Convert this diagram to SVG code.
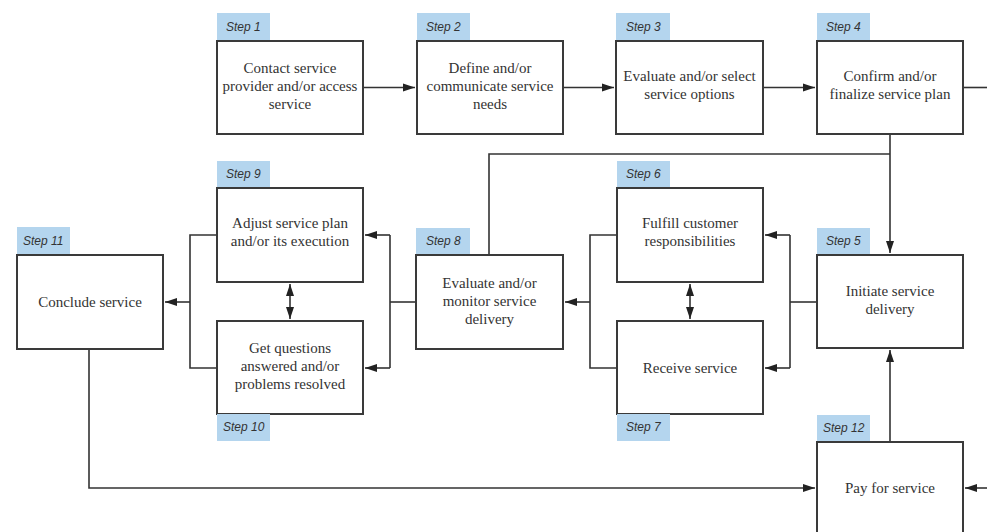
<svg xmlns="http://www.w3.org/2000/svg" width="987" height="532" viewBox="0 0 987 532">
<style>
.box{fill:#fff;stroke:#3a3a3a;stroke-width:2}
.lab{fill:#b4d5ee}
.t{font-family:"Liberation Serif","Times New Roman",serif;font-size:15px;fill:#333;text-anchor:middle}
.s{font-family:"Liberation Sans",Arial,sans-serif;font-size:12px;font-style:italic;fill:#333}
.c{fill:none;stroke:#333;stroke-width:1.6}
</style>
<defs>
<marker id="ar" viewBox="0 0 12 10" refX="12" refY="5" markerWidth="12" markerHeight="10" markerUnits="userSpaceOnUse" orient="auto-start-reverse">
<path d="M0,1 L12,5 L0,9 z" fill="#222"/>
</marker>
</defs>
<rect width="987" height="532" fill="#fff"/>
<g id="connectors">
<path class="c" d="M363,87.5 H415" marker-end="url(#ar)"/>
<path class="c" d="M563,87.5 H614" marker-end="url(#ar)"/>
<path class="c" d="M763,87.5 H815" marker-end="url(#ar)"/>
<path class="c" d="M963,87.5 H987"/>
<path class="c" d="M890,134 V253" marker-end="url(#ar)"/>
<path class="c" d="M489,255 V154 H890"/>
<path class="c" d="M817,302 H790"/>
<path class="c" d="M790,235 V368"/>
<path class="c" d="M790,235 H765" marker-end="url(#ar)"/>
<path class="c" d="M790,368 H765" marker-end="url(#ar)"/>
<path class="c" d="M690,284 V319" marker-start="url(#ar)" marker-end="url(#ar)"/>
<path class="c" d="M617,235 H590 V368 H617"/>
<path class="c" d="M590,302 H565" marker-end="url(#ar)"/>
<path class="c" d="M416,302 H390"/>
<path class="c" d="M390,235 V368"/>
<path class="c" d="M390,235 H365" marker-end="url(#ar)"/>
<path class="c" d="M390,368 H365" marker-end="url(#ar)"/>
<path class="c" d="M290,284 V319" marker-start="url(#ar)" marker-end="url(#ar)"/>
<path class="c" d="M217,235 H190 V368 H217"/>
<path class="c" d="M190,302 H165" marker-end="url(#ar)"/>
<path class="c" d="M89,349 V488 H815" marker-end="url(#ar)"/>
<path class="c" d="M987,488 H965" marker-end="url(#ar)"/>
<path class="c" d="M890,442 V350" marker-end="url(#ar)"/>
</g>
<g id="step1">
<rect class="lab" x="217" y="13" width="53" height="28"/>
<text class="s" x="226" y="31">Step 1</text>
<rect class="box" x="217" y="41" width="146" height="93"/>
<text class="t" x="290" y="73">Contact service</text>
<text class="t" x="290" y="91">provider and/or access</text>
<text class="t" x="290" y="109">service</text>
</g>
<g id="step2">
<rect class="lab" x="417" y="13" width="53" height="28"/>
<text class="s" x="426" y="31">Step 2</text>
<rect class="box" x="417" y="41" width="146" height="93"/>
<text class="t" x="490" y="73">Define and/or</text>
<text class="t" x="490" y="91">communicate service</text>
<text class="t" x="490" y="109">needs</text>
</g>
<g id="step3">
<rect class="lab" x="616" y="13" width="54" height="28"/>
<text class="s" x="626" y="31">Step 3</text>
<rect class="box" x="616" y="41" width="147" height="93"/>
<text class="t" x="689.5" y="81">Evaluate and/or select</text>
<text class="t" x="689.5" y="99">service options</text>
</g>
<g id="step4">
<rect class="lab" x="817" y="13" width="53" height="28"/>
<text class="s" x="826" y="31">Step 4</text>
<rect class="box" x="817" y="41" width="146" height="93"/>
<text class="t" x="890" y="81">Confirm and/or</text>
<text class="t" x="890" y="99">finalize service plan</text>
</g>
<g id="step5">
<rect class="lab" x="817" y="228" width="53" height="27"/>
<text class="s" x="826" y="245">Step 5</text>
<rect class="box" x="817" y="255" width="146" height="93"/>
<text class="t" x="890" y="296">Initiate service</text>
<text class="t" x="890" y="314">delivery</text>
</g>
<g id="step6">
<rect class="lab" x="617" y="161" width="53" height="27"/>
<text class="s" x="626" y="178">Step 6</text>
<rect class="box" x="617" y="188" width="146" height="94"/>
<text class="t" x="690" y="228">Fulfill customer</text>
<text class="t" x="690" y="246">responsibilities</text>
</g>
<g id="step7">
<rect class="box" x="617" y="321" width="146" height="93"/>
<text class="t" x="690" y="373">Receive service</text>
<rect class="lab" x="617" y="414" width="53" height="27"/>
<text class="s" x="626" y="431">Step 7</text>
</g>
<g id="step8">
<rect class="lab" x="416" y="228" width="54" height="27"/>
<text class="s" x="426" y="245">Step 8</text>
<rect class="box" x="416" y="255" width="147" height="94"/>
<text class="t" x="489.5" y="288">Evaluate and/or</text>
<text class="t" x="489.5" y="306">monitor service</text>
<text class="t" x="489.5" y="324">delivery</text>
</g>
<g id="step9">
<rect class="lab" x="217" y="161" width="53" height="27"/>
<text class="s" x="226" y="178">Step 9</text>
<rect class="box" x="217" y="188" width="146" height="94"/>
<text class="t" x="290" y="228">Adjust service plan</text>
<text class="t" x="290" y="246">and/or its execution</text>
</g>
<g id="step10">
<rect class="box" x="217" y="321" width="146" height="93"/>
<text class="t" x="290" y="353">Get questions</text>
<text class="t" x="290" y="371">answered and/or</text>
<text class="t" x="290" y="389">problems resolved</text>
<rect class="lab" x="217" y="414" width="53" height="27"/>
<text class="s" x="223" y="431">Step 10</text>
</g>
<g id="step11">
<rect class="lab" x="17" y="227" width="53" height="28"/>
<text class="s" x="23" y="245">Step 11</text>
<rect class="box" x="17" y="255" width="146" height="94"/>
<text class="t" x="90" y="307">Conclude service</text>
</g>
<g id="step12">
<rect class="lab" x="817" y="415" width="53" height="27"/>
<text class="s" x="823" y="432">Step 12</text>
<rect class="box" x="817" y="442" width="146" height="100"/>
<text class="t" x="890" y="493">Pay for service</text>
</g>
</svg>
